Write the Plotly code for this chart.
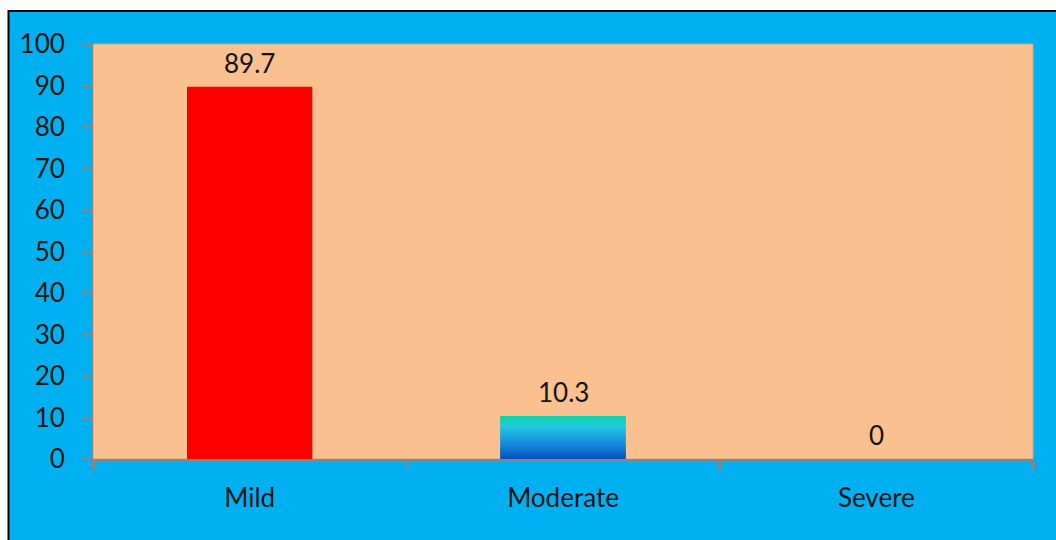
import plotly.graph_objects as go

categories = ["Mild", "Moderate", "Severe"]
values = [89.7, 10.3, 0]
value_labels = ["89.7", "10.3", "0"]
y_ticks = [0, 10, 20, 30, 40, 50, 60, 70, 80, 90, 100]

FONT = "Lato"
TXT = "#141414"
BLUE = "#00B0F0"
PEACH = "#FAC090"
RED = "#FF0000"

# gradient stops for the Moderate bar (fraction from top -> rgb)
stops = [(0.0, (14, 212, 166)), (0.22, (34, 201, 224)), (0.6, (22, 145, 220)), (1.0, (4, 80, 192))]


def grad_color(f):
    for (f0, c0), (f1, c1) in zip(stops[:-1], stops[1:]):
        if f0 <= f <= f1:
            t = (f - f0) / (f1 - f0) if f1 > f0 else 0
            c = [round(a + (b - a) * t) for a, b in zip(c0, c1)]
            return f"rgb({c[0]},{c[1]},{c[2]})"
    return f"rgb{stops[-1][1]}"


fig = go.Figure()

base_colors = [RED, "rgba(0,0,0,0)", RED]
fig.add_trace(go.Bar(x=categories, y=values, marker=dict(color=base_colors, line=dict(width=0)),
                     hoverinfo="skip", showlegend=False))

# Moderate bar drawn as a vertical gradient of stacked slices
mod_idx = categories.index("Moderate")
mod_val = values[mod_idx]
N = 40
seg = mod_val / N
for i in range(N):
    f_from_top = 1 - (i + 0.5) / N
    fig.add_trace(go.Bar(x=[categories[mod_idx]], y=[seg * 1.02], base=[seg * i],
                         marker=dict(color=grad_color(f_from_top), line=dict(width=0)),
                         hoverinfo="skip", showlegend=False))

for c, v, lab in zip(categories, values, value_labels):
    fig.add_annotation(x=c, y=v, text=lab, showarrow=False, yanchor="bottom", yshift=6,
                       font=dict(family=FONT, size=26, color=TXT))

W, H = 1056, 540
ml, mr, mt, mb = 93, 23, 44, 81
pw, ph = W - ml - mr, H - mt - mb


def px_x(x):
    return (x - ml) / pw


def px_y(y):
    return (H - mb - y) / ph


fig.add_shape(type="rect", xref="paper", yref="paper", layer="below",
              x0=px_x(8.5), x1=px_x(1065), y0=px_y(550), y1=px_y(11),
              fillcolor=BLUE, line=dict(color="black", width=2))
fig.add_shape(type="rect", xref="paper", yref="paper", layer="below",
              x0=0, x1=1, y0=0, y1=1, fillcolor=PEACH, line=dict(color="#c9a888", width=1))

fig.update_layout(
    width=W, height=H,
    margin=dict(l=ml, r=mr, t=mt, b=mb),
    paper_bgcolor="white",
    plot_bgcolor="rgba(0,0,0,0)",
    barmode="overlay",
    bargap=0.6,
    font=dict(family=FONT, size=26, color=TXT),
    xaxis=dict(type="category", showgrid=False, zeroline=False, showline=True,
               linecolor="#868686", linewidth=3, ticks="outside", tickson="boundaries",
               ticklen=8, tickwidth=3, tickcolor="#868686", ticklabelstandoff=14,
               tickfont=dict(family=FONT, size=26, color=TXT)),
    yaxis=dict(range=[0, 100], tickvals=y_ticks, showgrid=False, zeroline=False, showline=True,
               linecolor="#868686", linewidth=2, ticks="outside", ticklen=9, tickwidth=2,
               tickcolor="#868686", ticklabelstandoff=12,
               tickfont=dict(family=FONT, size=26, color=TXT)),
)

fig.write_html("out.html")
